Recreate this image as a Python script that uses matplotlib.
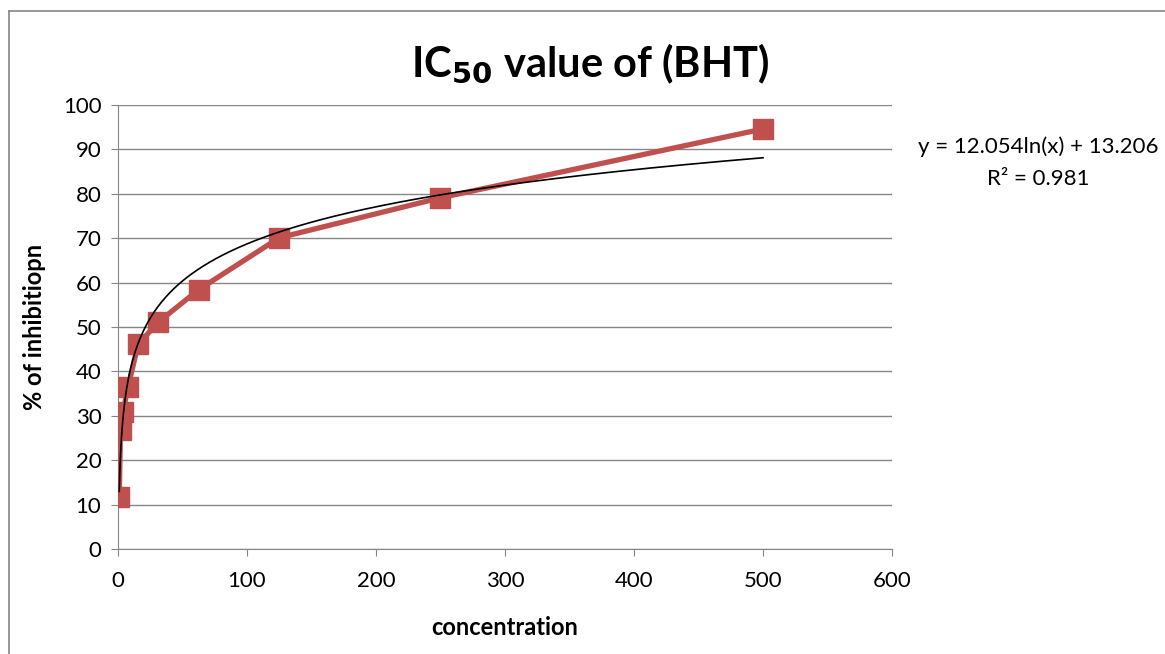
import numpy as np
import matplotlib
matplotlib.use("Agg")
import matplotlib.pyplot as plt
from matplotlib.lines import Line2D

plt.rcParams['font.family'] = ['Lato', 'DejaVu Sans']

# data
conc = [0.98, 1.95, 3.9, 7.8, 15.6, 31.25, 62.5, 125, 250, 500]
inhibition = [11.7, 26.8, 30.9, 36.5, 46.1, 51.1, 58.4, 70.1, 79.1, 94.6]

# log trendline as printed on chart
slope = 12.054
intercept = 13.206
r2 = 0.981

fig = plt.figure(figsize=(11.65, 6.54), dpi=100)
ax = fig.add_axes([118/1165, (654-549)/654, (892-118)/1165, (549-105)/654])

grey = '#868686'
red = '#C0504D'

ax.plot(conc, inhibition, color=red, lw=3.8, marker='s', ms=14, zorder=3)

xt = np.linspace(min(conc), max(conc), 2000)
ax.plot(xt, slope*np.log(xt) + intercept, color='black', lw=1.2, zorder=4)

ax.set_xlim(0, 600)
ax.set_ylim(0, 100)
ax.set_xticks(range(0, 601, 100))
ax.set_yticks(range(0, 101, 10))
ax.yaxis.grid(True, color=grey, lw=1)
ax.set_axisbelow(True)
for s in ['top', 'right']:
    ax.spines[s].set_visible(False)
for s in ['left', 'bottom']:
    ax.spines[s].set_color(grey)
ax.tick_params(axis='both', colors=grey, labelcolor='black', labelsize=16, length=5)
ax.tick_params(axis='x', pad=11)
ax.tick_params(axis='y', pad=7)

ax.set_xlabel('concentration', fontsize=17, fontweight='bold', labelpad=18)
ax.set_ylabel('% of inhibitiopn', fontsize=17, fontweight='bold', labelpad=12)

fig.text(590/1165, 1 - 64/654, 'IC$_{\\mathbf{50}}$ value of (BHT)', ha='center', va='center',
         fontsize=30, fontweight='bold')
fig.text(1038/1165, 1 - 163/654, f'y = {slope}ln(x) + {intercept}\nR² = {r2}', ha='center', va='center',
         fontsize=16, linespacing=1.75)

# chart area border
fig.add_artist(Line2D([9/1165, 9/1165], [0, 1 - 11/654], color=grey, lw=1.2, transform=fig.transFigure))
fig.add_artist(Line2D([9/1165, 1], [1 - 11/654, 1 - 11/654], color=grey, lw=1.2, transform=fig.transFigure))

fig.savefig('out.png', dpi=100)
